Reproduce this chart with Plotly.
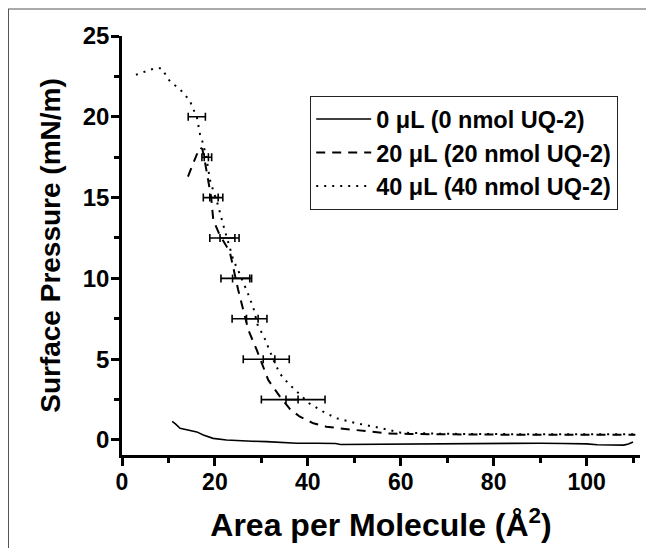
import plotly.graph_objects as go

# 0 uL series
x0 = [10.8, 11.5, 12.5, 13.9, 15.0, 16.1, 17.5, 19.6, 22.5, 25.4, 28.0, 31.1, 35.0, 37.6, 42.0,
      46.0, 47.0, 52.0, 56.0, 60.0, 65.0, 70.0, 75.0, 80.0, 85.0, 90.0, 95.0, 100.0, 102.3,
      105.0, 108.0, 109.0, 110.0]
y0 = [1.15, 1.0, 0.72, 0.62, 0.57, 0.5, 0.31, 0.1, 0.0, -0.06, -0.08, -0.1, -0.15, -0.2, -0.2,
      -0.22, -0.28, -0.27, -0.24, -0.25, -0.22, -0.2, -0.22, -0.2, -0.21, -0.2, -0.22, -0.24, -0.3,
      -0.3, -0.32, -0.25, -0.12]

# 20 uL series
x20 = [14.2, 15.0, 16.0, 16.8, 17.3, 17.8, 18.5, 19.2, 19.65, 21.0, 23.2, 25.0, 27.2, 29.0, 31.5,
       34.0, 36.2, 38.3, 41.2, 44.0, 46.9, 50.5, 54.1, 57.0, 62.0, 72.7, 85.0, 100.0, 110.5]
y20 = [16.3, 16.9, 17.6, 18.1, 18.0, 17.3, 16.2, 15.0, 13.6, 12.7, 11.65, 9.3, 6.8, 5.57, 3.7,
       2.68, 1.9, 1.44, 1.03, 0.82, 0.72, 0.62, 0.51, 0.41, 0.37, 0.33, 0.32, 0.32, 0.32]

# 40 uL series
x40 = [3.0, 5.0, 7.0, 8.5, 10.3, 12.5, 14.6, 15.3, 16.1, 16.8, 17.5, 18.2, 19.0, 20.7, 21.8, 24.0,
       25.0, 27.2, 28.3, 29.3, 30.4, 32.6, 34.0, 35.8, 37.2, 40.3, 43.3, 46.2, 50.5, 53.4, 55.5,
       60.0, 70.0, 85.0, 100.0, 110.5]
y40 = [22.6, 22.8, 23.0, 23.0, 22.2, 21.7, 21.0, 20.5, 20.0, 18.9, 18.3, 17.4, 16.0, 14.5, 13.3,
       11.1, 10.5, 9.0, 8.15, 7.0, 6.5, 4.95, 4.1, 3.5, 3.1, 2.27, 1.75, 1.34, 1.03, 0.87, 0.75,
       0.45, 0.38, 0.36, 0.36, 0.36]

# error bars (centres and half widths)
eb20_y = [17.5, 15.0, 12.5, 10.0, 7.5, 5.0, 2.5]
eb20_x = [17.9, 19.1, 21.6, 24.4, 26.5, 29.5, 33.95]
eb20_e = [0.7, 1.6, 2.7, 3.1, 2.8, 3.4, 3.95]

eb40_y = [20.0, 17.5, 15.0, 12.5, 10.0, 7.5, 5.0, 2.5]
eb40_x = [16.1, 18.5, 20.3, 23.15, 25.85, 29.0, 33.2, 39.5]
eb40_e = [1.85, 0.8, 1.4, 2.05, 2.05, 2.2, 2.8, 4.2]

names = ["0 μL (0 nmol UQ-2)", "20 μL (20 nmol UQ-2)", "40 μL (40 nmol UQ-2)"]

x_ticks = [0, 20, 40, 60, 80, 100]
y_ticks = [0, 5, 10, 15, 20, 25]

fig = go.Figure()
fig.add_trace(go.Scatter(x=x0, y=y0, mode="lines", name=names[0], legendgroup="a",
                         line=dict(color="black", width=1.6)))
fig.add_trace(go.Scatter(x=x20, y=y20, mode="lines", name=names[1], legendgroup="b",
                         line=dict(color="black", width=2, dash="9px,7px")))
fig.add_trace(go.Scatter(x=x40, y=y40, mode="lines", name=names[2], legendgroup="c",
                         line=dict(color="black", width=2, dash="2px,6px")))

for ex, ey, ee in [(eb20_x, eb20_y, eb20_e), (eb40_x, eb40_y, eb40_e)]:
    fig.add_trace(go.Scatter(
        x=ex, y=ey, mode="markers", showlegend=False, hoverinfo="skip",
        marker=dict(size=1, color="rgba(0,0,0,0)"),
        error_x=dict(type="data", array=ee, visible=True, color="black",
                     thickness=1.6, width=4)))

font_main = "Liberation Sans, Arial, sans-serif"

# page body has an 8px margin: figure coords = screen coords - 8
OFF = 8
W, H = 646, 540
L, R, T, B = 114, 14, 28, 93
pw, ph = W - L - R, H - T - B
def px_x(screen):
    return (screen - OFF - L) / pw
def px_y(screen):
    return (H - B - (screen - OFF)) / ph

fig.add_shape(type="line", xref="paper", yref="paper",
              x0=px_x(8.5), x1=px_x(8.5), y0=px_y(9), y1=px_y(560),
              line=dict(color="#555555", width=1))
fig.add_shape(type="line", xref="paper", yref="paper",
              x0=px_x(8), x1=px_x(660), y0=px_y(9), y1=px_y(9),
              line=dict(color="#555555", width=1))

fig.update_layout(
    width=W, height=H,
    margin=dict(l=L, r=R, t=T, b=B, autoexpand=False),
    paper_bgcolor="white", plot_bgcolor="white",
    font=dict(family=font_main, color="black"),
    showlegend=True,
    legend=dict(x=px_x(310), y=px_y(96), xanchor="left", yanchor="top",
                bordercolor="#222222", borderwidth=1.2, bgcolor="white",
                font=dict(size=23.5, family=font_main, weight="bold"),
                itemwidth=55, traceorder="grouped", tracegroupgap=0),
    xaxis=dict(range=[0, 111.5], tickvals=x_ticks, showgrid=False, zeroline=False,
               showline=True, linecolor="black", linewidth=2.5,
               ticks="outside", ticklen=8, tickwidth=2.5, tickcolor="black",
               ticklabelstandoff=-3,
               tickfont=dict(size=23, family=font_main, weight="bold"),
               minor=dict(dtick=10, ticks="outside", ticklen=5, tickwidth=2.5,
                          tickcolor="black", showgrid=False),
               title=dict(text="Area per Molecule (Å<sup>2</sup>)", standoff=20,
                          font=dict(size=32, family=font_main, weight="bold"))),
    yaxis=dict(range=[-0.93, 25], tickvals=y_ticks, showgrid=False, zeroline=False,
               showline=True, linecolor="black", linewidth=2.5,
               ticks="outside", ticklen=8, tickwidth=2.5, tickcolor="black",
               ticklabelstandoff=-3,
               tickfont=dict(size=24, family=font_main, weight="bold"),
               minor=dict(dtick=2.5, ticks="outside", ticklen=5, tickwidth=2.5,
                          tickcolor="black", showgrid=False),
               title=dict(text="Surface Pressure (mN/m)", standoff=14,
                          font=dict(size=28, family=font_main, weight="bold"))),
)

fig.write_html("out.html")
